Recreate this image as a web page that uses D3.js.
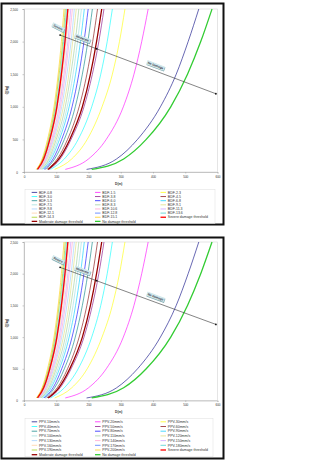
<!DOCTYPE html>
<html><head><meta charset="utf-8">
<script src="https://cdn.jsdelivr.net/npm/d3@7"></script>
<style>
body{margin:0;background:#fff;}
svg{display:block;font-family:"Liberation Sans",Arial,sans-serif;}
</style></head><body>
<svg id="chart" width="322" height="462"></svg>
<script>
// charge levels (kg) at which each curve's distance was read
const qLevels = [40, 200, 500, 1000, 1500, 2000, 2500];

const bdfLabels = ["BDF-0.8","BDF-1.5","BDF-2.3","BDF-3.0","BDF-3.8","BDF-4.5","BDF-5.3","BDF-6.0","BDF-6.8","BDF-7.5",
  "BDF-8.3","BDF-9.1","BDF-9.8","BDF-10.6","BDF-11.3","BDF-12.1","BDF-12.8","BDF-13.6","BDF-14.3","BDF-15.1"];
const ppvLabels = ["PPV-10mm/s","PPV-20mm/s","PPV-30mm/s","PPV-40mm/s","PPV-50mm/s","PPV-60mm/s","PPV-70mm/s","PPV-80mm/s",
  "PPV-90mm/s","PPV-100mm/s","PPV-110mm/s","PPV-120mm/s","PPV-130mm/s","PPV-140mm/s","PPV-150mm/s","PPV-160mm/s",
  "PPV-170mm/s","PPV-180mm/s","PPV-190mm/s","PPV-200mm/s"];
const thresholdLabels = ["Severe damage threshold", "Moderate damage threshold", "No damage threshold"];

// distance D (m) of every curve at each qLevel
const seriesD = [
  [194, 287, 352, 423, 472, 509, 542],
  [128, 200, 255, 308, 341, 365, 385],
  [95, 148, 196, 242, 274, 296, 313],
  [82, 125, 168, 210, 238, 258, 274],
  [77, 112, 146, 186, 212, 232, 248],
  [71, 103, 135, 171, 195, 213, 228],
  [66, 95, 125, 159, 181, 198, 212],
  [62, 90, 117, 149, 170, 186, 199],
  [58, 84, 110, 140, 160, 175, 187],
  [55, 80, 105, 134, 152, 166, 178],
  [53, 77, 100, 128, 145, 159, 170],
  [50, 73, 96, 122, 139, 151, 162],
  [48, 70, 92, 117, 133, 146, 156],
  [47, 68, 89, 113, 128, 140, 150],
  [45, 65, 86, 109, 124, 136, 145],
  [43, 63, 83, 105, 120, 131, 140],
  [42, 61, 80, 102, 116, 127, 136],
  [41, 59, 78, 99, 113, 123, 132],
  [40, 58, 76, 96, 109, 120, 128],
  [38, 56, 73, 93, 106, 116, 124]
];
const thresholdD = [
  [42, 61, 80, 102, 116, 127, 136],
  [75, 108, 142, 181, 206, 225, 241],
  [210, 309, 379, 455, 507, 548, 583]
];

const xTicks = [0, 100, 200, 300, 400, 500, 600];
const yTicks = [0, 500, 1000, 1500, 2000, 2500];

// damage arrow: start, moderate point, end  [D, Q]
const arrowPts = [[112, 2100], [225, 1890], [595, 1200]];
const arrowLabels = ["Severe", "Moderate", "No Damage"];
const arrowLabelPos = [[106, 2220], [181, 2050], [408, 1635]];

const seriesColors = ["#000080","#ff00ff","#ffff00","#00ffff","#800080","#800000","#008080","#0000ff","#00ccff","#99dddd",
  "#99cc99","#dddd77","#99ccff","#ff99cc","#cc99ff","#ffcc99","#3366ff","#33cccc","#99cc00","#ffcc00"];
const thresholdColors = ["#ff0000", "#990000", "#33cc33"];

const svg = d3.select("#chart");

const panels = [
  { labels: bdfLabels, frame: [1.5, 3.5, 222, 221], plot: [24, 9, 193.5, 163],
    legend: [25, 189.3, 190, 34], row0: 192.4, rowStep: 4.14, xTitleY: 185.3, yTitleY: 90 },
  { labels: ppvLabels, frame: [1.5, 237.5, 222, 221], plot: [24, 242, 193.5, 158.5],
    legend: [25, 418.3, 188, 38.5], row0: 421.8, rowStep: 4.7, xTitleY: 413, yTitleY: 323 }
];

panels.forEach((p, pi) => {
  const [px, py, pw, ph] = p.plot;
  const x = d3.scaleLinear().domain([0, 600]).range([px, px + pw]);
  const y = d3.scaleLinear().domain([0, 2500]).range([py + ph, py]);
  const g = svg.append("g");

  g.append("rect")
    .attr("x", p.frame[0]).attr("y", p.frame[1])
    .attr("width", p.frame[2]).attr("height", p.frame[3])
    .attr("fill", "#fff").attr("stroke", "#111").attr("stroke-width", 2);

  g.append("rect")
    .attr("x", px).attr("y", py).attr("width", pw).attr("height", ph)
    .attr("fill", "none").attr("stroke", "#d4d4d4").attr("stroke-width", 0.6);

  // axes
  const xa = g.append("g").attr("transform", `translate(0,${py + ph})`)
    .call(d3.axisBottom(x).tickValues(xTicks).tickSize(1.5).tickPadding(2.2));
  const ya = g.append("g").attr("transform", `translate(${px},0)`)
    .call(d3.axisLeft(y).tickValues(yTicks).tickSize(1.5).tickPadding(4.5));
  [xa, ya].forEach(a => {
    a.selectAll("path,line").attr("stroke", "#999").attr("stroke-width", 0.5);
    a.selectAll("text").attr("font-size", 3.1).attr("fill", "#333").attr("font-family", null);
  });

  g.append("text").attr("x", px + pw / 2 - 2).attr("y", p.xTitleY)
    .attr("text-anchor", "middle").attr("font-size", 3.2).attr("font-weight", "bold")
    .attr("fill", "#333").text("D(m)");
  g.append("text").attr("transform", `translate(7.8,${p.yTitleY}) rotate(-90)`)
    .attr("text-anchor", "middle").attr("font-size", 3.2).attr("font-weight", "bold")
    .attr("fill", "#333").text("Q(kg)");

  // curves
  const clipId = "clip" + pi;
  g.append("clipPath").attr("id", clipId).append("rect")
    .attr("x", px).attr("y", py - 0.5).attr("width", pw).attr("height", ph + 0.5);
  const line = d3.line()
    .x(d => x(d[0])).y(d => y(d[1]))
    .curve(d3.curveMonotoneX);
  const curves = g.append("g").attr("clip-path", `url(#${clipId})`);

  seriesD.forEach((ds, i) => {
    curves.append("path")
      .attr("d", line(ds.map((d, k) => [d, qLevels[k]])))
      .attr("fill", "none").attr("stroke", seriesColors[i]).attr("stroke-width", 0.6);
  });
  thresholdD.forEach((ds, i) => {
    curves.append("path")
      .attr("d", line(ds.map((d, k) => [d, qLevels[k]])))
      .attr("fill", "none").attr("stroke", thresholdColors[i]).attr("stroke-width", 1.3);
  });

  // damage arrow
  const a0 = arrowPts[0], a1 = arrowPts[arrowPts.length - 1];
  g.append("line")
    .attr("x1", x(a0[0])).attr("y1", y(a0[1])).attr("x2", x(a1[0])).attr("y2", y(a1[1]))
    .attr("stroke", "#333").attr("stroke-width", 0.6);
  arrowPts.forEach(pt => {
    g.append("circle").attr("cx", x(pt[0])).attr("cy", y(pt[1])).attr("r", 0.9).attr("fill", "#111");
  });

  const ang = Math.atan2(y(a1[1]) - y(a0[1]), x(a1[0]) - x(a0[0])) * 180 / Math.PI;
  arrowLabels.forEach((t, i) => {
    const lx = x(arrowLabelPos[i][0]), ly = y(arrowLabelPos[i][1]);
    const w = t.length * 1.85 + 2;
    const lg = g.append("g").attr("transform", `translate(${lx},${ly}) rotate(${i === 0 ? ang + 6 : ang})`);
    lg.append("rect").attr("x", -w / 2 + 0.6).attr("y", -2.2 + 0.6).attr("width", w).attr("height", 4.4)
      .attr("fill", "#7fa9b0");
    lg.append("rect").attr("x", -w / 2).attr("y", -2.2).attr("width", w).attr("height", 4.4)
      .attr("fill", "#d3e9ec");
    lg.append("text").attr("text-anchor", "middle").attr("dy", "0.35em")
      .attr("font-size", 3).attr("font-weight", "bold").attr("fill", "#334").text(t);
  });

  // legend
  const [lx, ly, lw, lh] = p.legend;
  g.append("rect").attr("x", lx).attr("y", ly).attr("width", lw).attr("height", lh)
    .attr("fill", "#fff").attr("stroke", "#ddd").attr("stroke-width", 0.5);
  const colX = [31.7, 95, 160.5];
  const items = p.labels.map((t, i) => ({ t, c: seriesColors[i], w: 0.7 }))
    .concat(thresholdLabels.map((t, i) => ({ t, c: thresholdColors[i], w: 1.3 })));
  items.forEach((it, i) => {
    const r = Math.floor(i / 3), c = i % 3;
    const yy = p.row0 + r * p.rowStep;
    g.append("line").attr("x1", colX[c]).attr("x2", colX[c] + 5.5)
      .attr("y1", yy).attr("y2", yy).attr("stroke", it.c).attr("stroke-width", it.w);
    g.append("text").attr("x", colX[c] + 7.3).attr("y", yy).attr("dy", "0.35em")
      .attr("font-size", 3.5).attr("fill", "#333").text(it.t);
  });
});
</script>
</body></html>
